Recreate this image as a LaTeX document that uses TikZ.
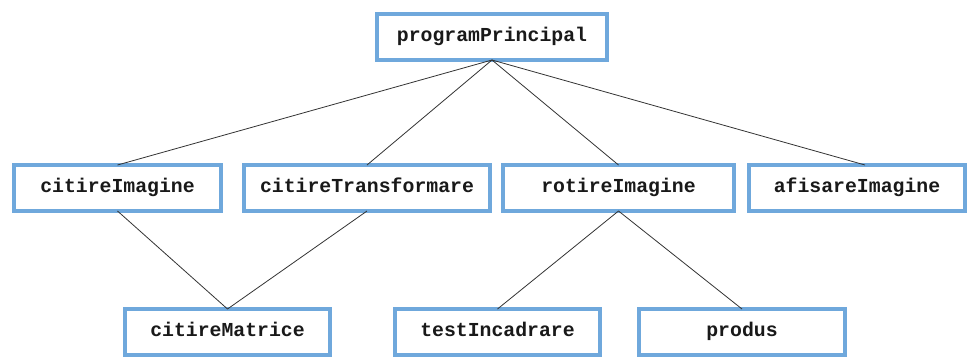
\documentclass[tikz,border=0pt]{standalone}
\usepackage{fontspec}
\setmonofont{Liberation Mono}
\definecolor{boxblue}{HTML}{6FA8DC}
\tikzset{
  module/.style={draw=boxblue, line width=4bp, fill=white, inner sep=0pt, outer sep=0pt,
    minimum height=46bp, text height=11.5bp, text depth=3.5bp,
    font=\ttfamily\bfseries\fontsize{19.8bp}{24bp}\selectfont, text=black!90},
  link/.style={draw=black!80, line width=0.8bp}
}
\begin{document}
\begin{tikzpicture}[x=1bp, y=-1bp]
  \useasboundingbox (0,0) rectangle (969,358);

  % top level
  \node[module, minimum width=230bp] (pP) at (492,37) {programPrincipal};

  % second level
  \node[module, minimum width=207bp] (cI) at (117.5,188) {citireImagine};
  \node[module, minimum width=246bp] (cT) at (367,188) {citireTransformare};
  \node[module, minimum width=231bp] (rI) at (618.5,188) {rotireImagine};
  \node[module, minimum width=216bp] (aI) at (857,188) {afisareImagine};

  % third level
  \node[module, minimum width=205bp] (cM) at (227.5,332) {citireMatrice};
  \node[module, minimum width=205bp] (tI) at (497.5,332) {testIncadrare};
  \node[module, minimum width=206bp] (pr) at (742,332) {produs};

  % calls from each module to the ones it uses
  \draw[link] (pP.south) -- (cI.north);
  \draw[link] (pP.south) -- (cT.north);
  \draw[link] (pP.south) -- (rI.north);
  \draw[link] (pP.south) -- ([xshift=8bp]aI.north);

  \draw[link] (cI.south) -- (cM.north);
  \draw[link] (cT.south) -- (cM.north);
  \draw[link] (rI.south) -- (tI.north);
  \draw[link] (rI.south) -- (pr.north);
\end{tikzpicture}
\end{document}
